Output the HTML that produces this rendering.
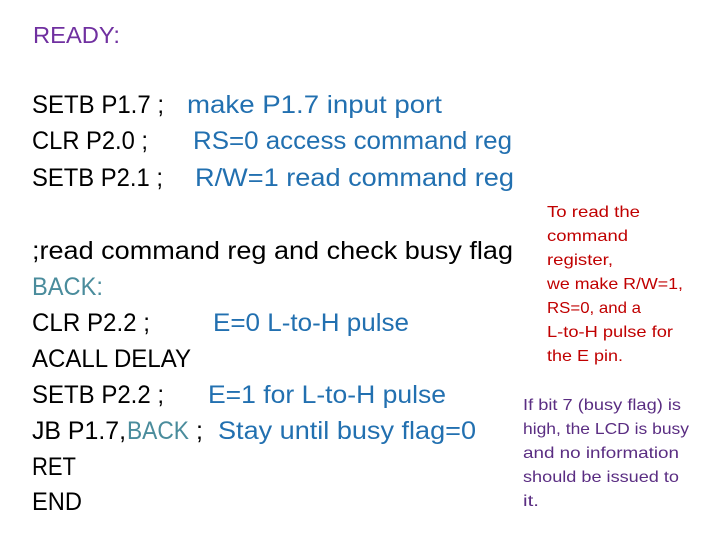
<!DOCTYPE html>
<html><head><meta charset="utf-8"><style>
html,body{margin:0;padding:0;background:#fff;width:720px;height:540px;overflow:hidden}
svg text{font-family:"Liberation Sans",sans-serif}
.k{fill:#000;font-size:25px}
.b{fill:#2270b0;font-size:25px}
.t{fill:#4a8c9c;font-size:25px}
.r{fill:#c00000;font-size:16px}
.p{fill:#5a2d82;font-size:16px}
</style></head><body>
<svg width="720" height="540" xmlns="http://www.w3.org/2000/svg">
<g lengthAdjust="spacingAndGlyphs">
<text x="33" y="43" style="fill:#7030a0;font-size:23px" textLength="87" lengthAdjust="spacingAndGlyphs">READY:</text>

<text class="k" x="32" y="113" textLength="132" lengthAdjust="spacingAndGlyphs">SETB P1.7 ;</text>
<text class="b" x="187" y="113" textLength="255" lengthAdjust="spacingAndGlyphs">make P1.7 input port</text>
<text class="k" x="32" y="149" textLength="116" lengthAdjust="spacingAndGlyphs">CLR P2.0 ;</text>
<text class="b" x="193" y="149" textLength="319" lengthAdjust="spacingAndGlyphs">RS=0 access command reg</text>
<text class="k" x="32" y="186" textLength="131" lengthAdjust="spacingAndGlyphs">SETB P2.1 ;</text>
<text class="b" x="195" y="186" textLength="319" lengthAdjust="spacingAndGlyphs">R/W=1 read command reg</text>

<text class="k" x="32" y="259" textLength="481" lengthAdjust="spacingAndGlyphs">;read command reg and check busy flag</text>
<text class="t" x="32" y="295" textLength="71" lengthAdjust="spacingAndGlyphs">BACK:</text>
<text class="k" x="32" y="331" textLength="118" lengthAdjust="spacingAndGlyphs">CLR P2.2 ;</text>
<text class="b" x="213" y="331" textLength="196" lengthAdjust="spacingAndGlyphs">E=0 L-to-H pulse</text>
<text class="k" x="32" y="367" textLength="159" lengthAdjust="spacingAndGlyphs">ACALL DELAY</text>
<text class="k" x="32" y="403" textLength="132" lengthAdjust="spacingAndGlyphs">SETB P2.2 ;</text>
<text class="b" x="208" y="403" textLength="238" lengthAdjust="spacingAndGlyphs">E=1 for L-to-H pulse</text>
<text class="k" x="32" y="439" textLength="94" lengthAdjust="spacingAndGlyphs">JB P1.7,</text>
<text class="t" x="127" y="439" textLength="62" lengthAdjust="spacingAndGlyphs">BACK</text>
<text class="k" x="196" y="439">;</text>
<text class="b" x="218" y="439" textLength="258" lengthAdjust="spacingAndGlyphs">Stay until busy flag=0</text>
<text class="k" x="32" y="475" textLength="44" lengthAdjust="spacingAndGlyphs">RET</text>
<text class="k" x="32" y="510" textLength="50" lengthAdjust="spacingAndGlyphs">END</text>

<text class="r" x="547" y="217" textLength="93" lengthAdjust="spacingAndGlyphs">To read the</text>
<text class="r" x="547" y="241" textLength="81" lengthAdjust="spacingAndGlyphs">command</text>
<text class="r" x="547" y="265" textLength="66" lengthAdjust="spacingAndGlyphs">register,</text>
<text class="r" x="547" y="289" textLength="136" lengthAdjust="spacingAndGlyphs">we make R/W=1,</text>
<text class="r" x="547" y="313" textLength="94" lengthAdjust="spacingAndGlyphs">RS=0, and a</text>
<text class="r" x="547" y="337" textLength="126" lengthAdjust="spacingAndGlyphs">L-to-H pulse for</text>
<text class="r" x="547" y="361" textLength="76" lengthAdjust="spacingAndGlyphs">the E pin.</text>

<text class="p" x="523" y="410" textLength="158" lengthAdjust="spacingAndGlyphs">If bit 7 (busy flag) is</text>
<text class="p" x="523" y="434" textLength="166" lengthAdjust="spacingAndGlyphs">high, the LCD is busy</text>
<text class="p" x="523" y="458" textLength="156" lengthAdjust="spacingAndGlyphs">and no information</text>
<text class="p" x="523" y="482" textLength="156" lengthAdjust="spacingAndGlyphs">should be issued to</text>
<text class="p" x="523" y="506" textLength="16" lengthAdjust="spacingAndGlyphs">it.</text>
</g>
</svg>
</body></html>
